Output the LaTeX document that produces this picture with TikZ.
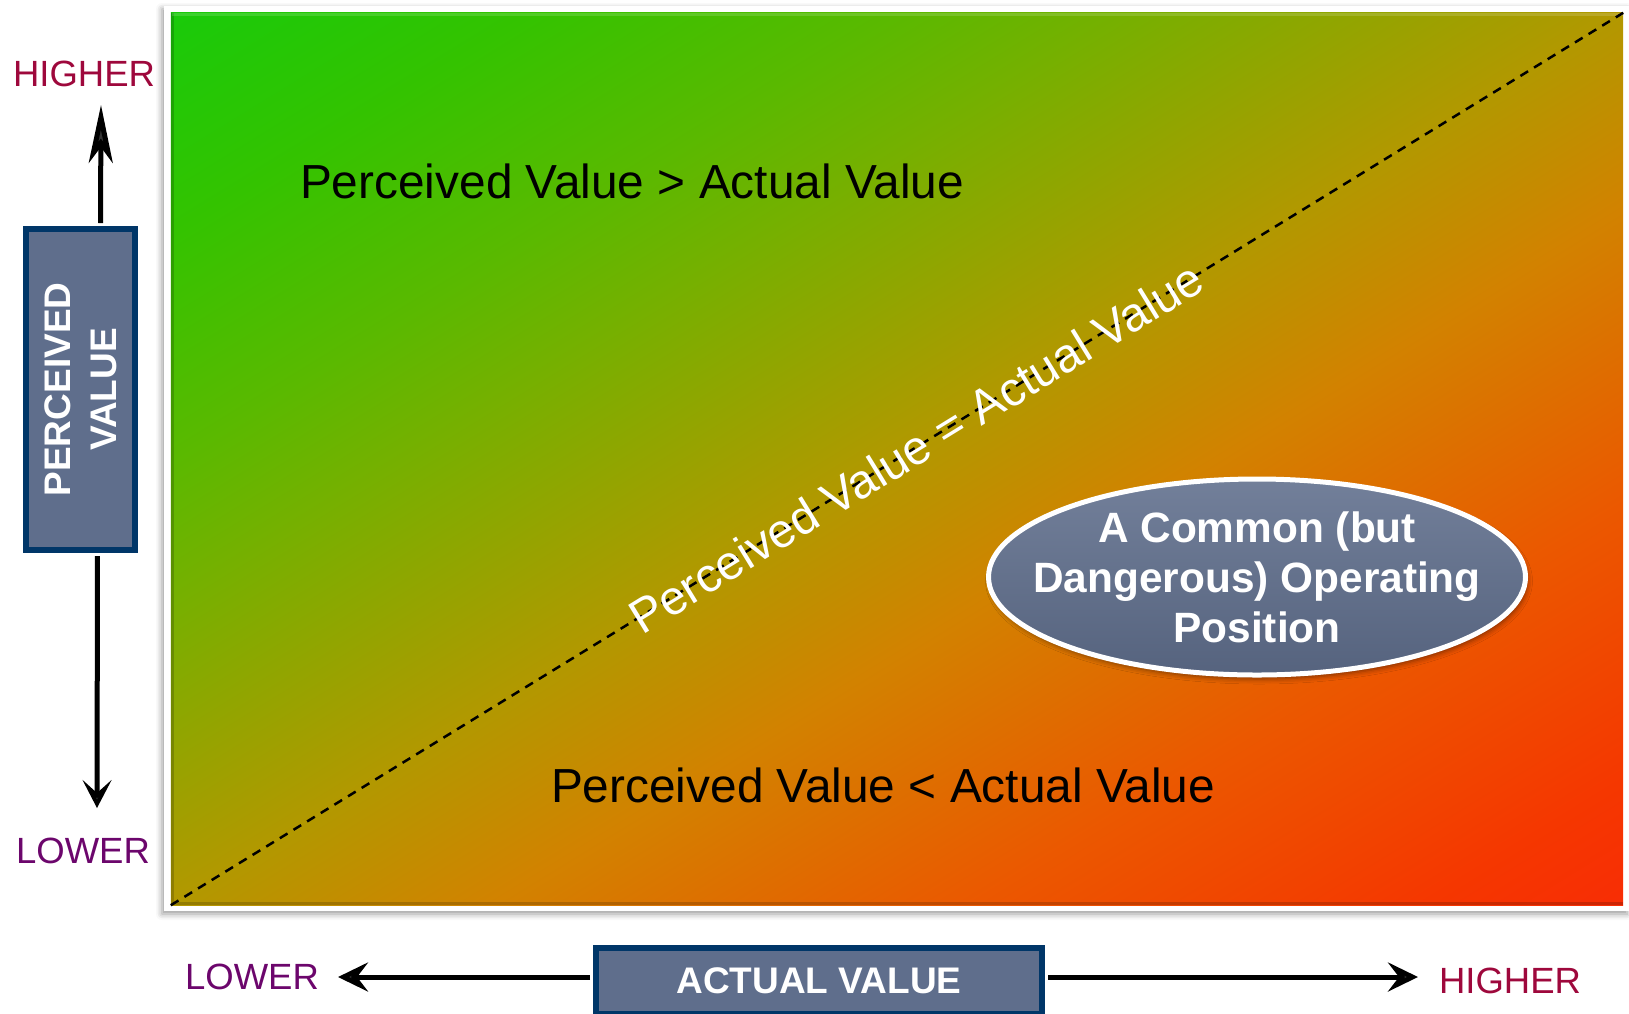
\documentclass[tikz,border=0pt]{standalone}
\usepackage{fontspec}
\setmainfont{Liberation Sans}
\usetikzlibrary{positioning,arrows.meta,shapes.geometric,shadows.blur}

\definecolor{mapA}{RGB}{25,202,10}
\definecolor{mapB}{RGB}{52,195,0}
\definecolor{mapC}{RGB}{90,185,0}
\definecolor{mapD}{RGB}{118,176,0}
\definecolor{mapE}{RGB}{178,152,0}
\definecolor{mapF}{RGB}{210,130,0}
\definecolor{mapG}{RGB}{235,88,0}
\definecolor{mapH}{RGB}{245,55,0}
\definecolor{mapI}{RGB}{248,45,5}
\definecolor{boxfill}{RGB}{95,110,140}
\definecolor{boxline}{RGB}{0,54,104}
\definecolor{highred}{RGB}{158,8,60}
\definecolor{lowpurple}{RGB}{108,6,108}

% gradient across the map, running at right angles to its diagonal
\pgfdeclareverticalshading{valuegrad}{1800pt}{%
	color(0pt)=(mapI); color(20pt)=(mapI); color(126.4pt)=(mapH);
	color(362pt)=(mapG); color(612.8pt)=(mapF); color(780pt)=(mapE);
	color(1038.4pt)=(mapD); color(1160pt)=(mapC); color(1350pt)=(mapB);
	color(1540pt)=(mapA); color(1560pt)=(mapA)}

\begin{document}
\begin{tikzpicture}[
	x=1pt, y=-1pt,
	axisbox/.style={
		rectangle,
		draw=boxline,
		line width=6pt,
		fill=boxfill,
		text=white,
		inner sep=0pt,
		align=center,
		font=\fontsize{37}{46}\selectfont\bfseries
	},
	axislabel/.style={
		inner sep=0pt,
		font=\fontsize{36.5}{44}\selectfont
	},
	axisline/.style={
		line width=5pt
	},
	region/.style={
		inner sep=0pt,
		font=\fontsize{47.8}{56}\selectfont
	}
	]
	
	\useasboundingbox (0,0) rectangle (1629,1013);
	
	% value map
	\fill[white, blur shadow={shadow xshift=-2pt, shadow yshift=-3pt, shadow blur radius=6pt}] (164,6) rectangle (1629,911);
	\node[inner sep=0pt, minimum width=1452pt, minimum height=892pt] (map) at (897,459) {};
	\begin{scope}
		\clip (map.south west) rectangle (map.north east);
		\node[inner sep=0pt, rotate=31.56] (mapshade) at (map.center) {\pgfuseshading{valuegrad}};
	\end{scope}
	\draw[black, opacity=0.18, line width=3pt] ([xshift=1.5pt]map.north west) -- ([shift={(1.5pt,1.5pt)}]map.south west) -- ([yshift=1.5pt]map.south east);
	\draw[white, opacity=0.15, line width=3pt] ([shift={(1.5pt,-1.5pt)}]map.north west) -- ([yshift=-1.5pt]map.north east);
	
	\node[region] (above) at (632,181) {Perceived Value > Actual Value};
	\node[region] (below) at (883,785) {Perceived Value < Actual Value};
	\draw[line width=2.5pt, dash pattern=on 9pt off 7pt] (map.south west) -- node[region, text=white, pos=0.513, sloped] (equal) {Perceived Value = Actual Value} (map.north east);
	
	\node[ellipse, draw=white, line width=5pt, top color=boxfill!88!white, bottom color=boxfill!90!black,
		inner sep=0pt, minimum width=537pt, minimum height=196pt,
		blur shadow={shadow xshift=2pt, shadow yshift=-4pt, shadow blur radius=5pt, shadow opacity=45}]
		(danger) at (1257,577) {};
	\node[inner sep=0pt, text=white, align=center, font=\fontsize{42.4}{50}\selectfont\bfseries]
		(dangertext) at (danger.center) {A Common (but\\Dangerous) Operating\\Position};
	
	% perceived axis
	\node[axisbox, rotate=90, minimum width=321pt, minimum height=109pt] (pbox) at (80.5,389.5) {PERCEIVED\\VALUE};
	\coordinate (uptip) at (101,105);
	\coordinate (downtip) at (97,808);
	\draw[axisline, shorten <=3pt, -{Stealth[length=58pt, width=24pt, inset=16pt]}] ([xshift=20pt]pbox.east) -- (uptip);
	\draw[axisline, shorten <=3pt, -{Stealth[length=28pt, width=29pt, inset=13pt]}] ([xshift=17pt]pbox.west) -- (downtip);
	\node[axislabel, text=highred] (phigh) at (84,73.5) {HIGHER};
	\node[axislabel, text=lowpurple] (plow) at (83,851) {LOWER};
	
	% actual axis
	\node[axisbox, minimum width=446pt, minimum height=66pt] (abox) at (819,981) {ACTUAL VALUE};
	\coordinate (lefttip) at (338,977);
	\coordinate (righttip) at (1418,977);
	\draw[axisline, shorten <=3pt, -{Stealth[length=30pt, width=29pt, inset=11pt]}] ([yshift=4pt]abox.west) -- (lefttip);
	\draw[axisline, shorten <=3pt, -{Stealth[length=30pt, width=29pt, inset=11pt]}] ([yshift=4pt]abox.east) -- (righttip);
	\node[axislabel, text=lowpurple] (alow) at (252,977) {LOWER};
	\node[axislabel, text=highred] (ahigh) at (1510,981) {HIGHER};
	
\end{tikzpicture}
\end{document}
